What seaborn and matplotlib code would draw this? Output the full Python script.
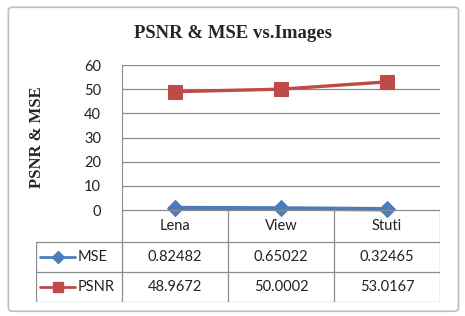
import numpy as np
import pandas as pd
import matplotlib
matplotlib.use("Agg")
import matplotlib.pyplot as plt
import seaborn as sns
from matplotlib.patches import FancyBboxPatch

images = ["Lena", "View", "Stuti"]
mse = [0.82482, 0.65022, 0.32465]
psnr = [48.9672, 50.0002, 53.0167]
mse_labels = ["0.82482", "0.65022", "0.32465"]
psnr_labels = ["48.9672", "50.0002", "53.0167"]
yticks = [0, 10, 20, 30, 40, 50, 60]

BLUE = "#4A7EBB"
RED = "#BE4B48"
GRID = "#8C8C8C"

sns.set_style("white")
plt.rcParams['font.family'] = ['Lato', 'DejaVu Sans']

fig = plt.figure(figsize=(4.65, 3.16), dpi=100)

# outer chart frame (behind everything)
frame = FancyBboxPatch((0.018, 0.015), 0.968, 0.962, boxstyle="round,pad=0,rounding_size=0.01",
                       transform=fig.transFigure, facecolor="white", edgecolor="#BDBDBD", lw=1.2,
                       zorder=-10)
fig.patches.append(frame)

ax = fig.add_axes([0.2624, 0.3354, 0.6839, 0.4589])
pos = np.arange(len(images))
df = pd.DataFrame({"pos": np.concatenate([pos, pos]),
                   "val": mse + psnr,
                   "series": ["MSE"] * 3 + ["PSNR"] * 3})

sns.lineplot(data=df[df.series == "MSE"], x="pos", y="val", ax=ax, color=BLUE, lw=3.2,
             marker="D", markersize=8, markeredgecolor=BLUE, clip_on=False, zorder=5)
sns.lineplot(data=df[df.series == "PSNR"], x="pos", y="val", ax=ax, color=RED, lw=2.4,
             marker="s", markersize=10, markeredgecolor=RED, clip_on=False, zorder=5)

ax.set_xlim(-0.5, len(images) - 0.5)
ax.set_ylim(0, 60)
ax.set_yticks(yticks)
ax.set_xticks([])
ax.set_xlabel("")
ax.set_ylabel("")
ax.yaxis.grid(True, color=GRID, lw=0.9)
ax.tick_params(axis="y", length=0, pad=15, labelsize=10.5, labelcolor="#222222")
for s in ["top", "right", "bottom"]:
    ax.spines[s].set_visible(False)
ax.spines["left"].set_color(GRID)
ax.set_facecolor("none")

fig.text(0.5, 0.893, "PSNR & MSE vs.Images", ha="center", va="center",
         fontfamily="Liberation Serif", fontweight="bold", fontsize=13.5)
fig.text(0.08, 0.565, "PSNR & MSE", ha="center", va="center", rotation=90,
         fontfamily="Liberation Serif", fontweight="bold", fontsize=12)

# data table below the plot
tab = fig.add_axes([0.0774, 0.0443, 0.8688, 0.2911])
left_w = 86 / 106
tab.set_xlim(-0.5 - left_w, len(images) - 0.5)
tab.set_ylim(0, 92)
tab.axis("off")
lx = -0.5 - left_w
rx = len(images) - 0.5
lc = dict(color=GRID, lw=0.9)
tab.plot([-0.5, rx], [92, 92], **lc)
for y in [60, 30, 0]:
    tab.plot([lx, rx], [y, y], **lc)
tab.plot([lx, lx], [0, 60], **lc)
for x in np.arange(len(images) + 1) - 0.5:
    tab.plot([x, x], [0, 92], **lc)

for i, name in enumerate(images):
    tab.text(i, 76, name, ha="center", va="center", fontsize=10.5, color="#222222")
    tab.text(i, 45, mse_labels[i], ha="center", va="center", fontsize=10.5, color="#222222")
    tab.text(i, 15, psnr_labels[i], ha="center", va="center", fontsize=10.5, color="#222222")

kx0 = lx + 0.04
kx1 = lx + 0.37
tab.plot([kx0, kx1], [45, 45], color=BLUE, lw=2)
tab.plot([(kx0 + kx1) / 2], [45], marker="D", color=BLUE, markersize=6.5)
tab.text(kx1 + 0.02, 45, "MSE", ha="left", va="center", fontsize=10.5, color="#222222")
tab.plot([kx0, kx1], [15, 15], color=RED, lw=2)
tab.plot([(kx0 + kx1) / 2], [15], marker="s", color=RED, markersize=7)
tab.text(kx1 + 0.02, 15, "PSNR", ha="left", va="center", fontsize=10.5, color="#222222")

fig.savefig("out.png", dpi=100)
